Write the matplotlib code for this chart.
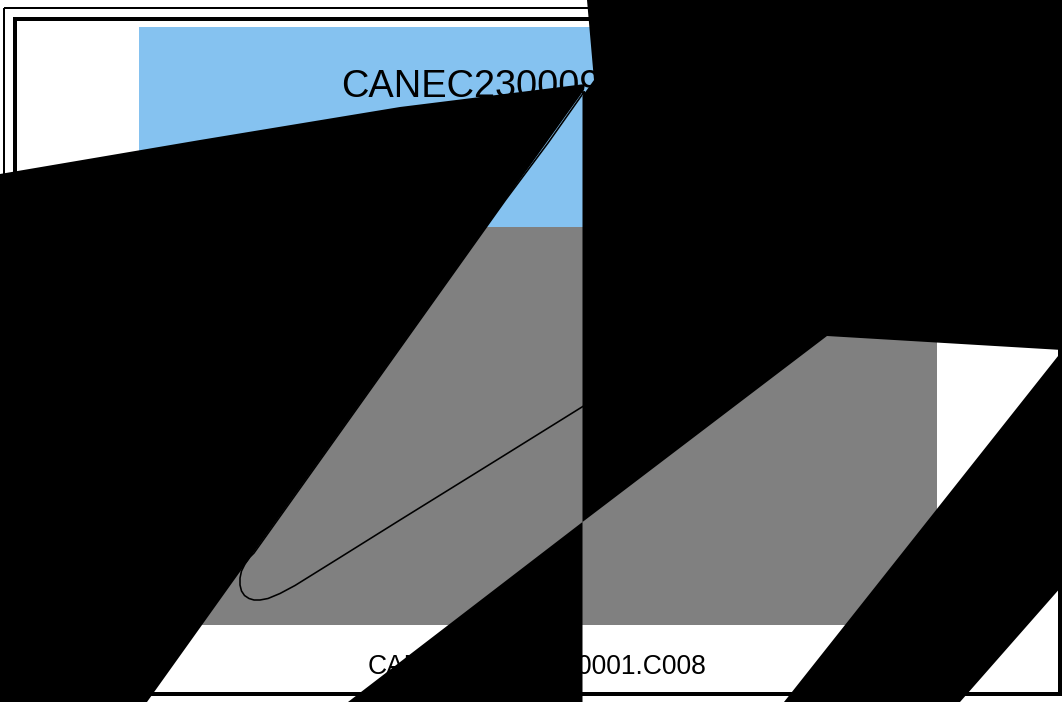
import matplotlib
matplotlib.use("Agg")
import matplotlib.pyplot as plt
from matplotlib.patches import Polygon, Rectangle

# ---- texts ----
title_text = "CANEC230009000001"
caption_text = "CANEC230009000001.C008"

# ---- black shapes, vertices (pixel space) ----
shape_a_x = [0, 200, 400, 585, 584, 147, 0]
shape_a_y = [174, 140, 107, 84, 90, 702, 702]
shape_b_x = [587, 1062, 1062, 827, 582.5, 582.5, 594]
shape_b_y = [0, 0, 350, 336, 522, 96, 80]
shape_c_x = [582.5, 348, 582.5]
shape_c_y = [522, 702, 702]
shape_d_x = [1062, 1062, 960, 784]
shape_d_y = [351, 586, 702, 702]

# ---- the thin curve ----
curve_x = [584, 548, 505.5, 254, 250, 245, 241.5, 240, 240, 241.5, 244.5, 249, 254, 260,
           268, 280, 295, 340, 400, 500, 590]
curve_y = [92, 143, 200, 553, 557, 564, 571, 578, 585, 591, 595.5, 598.5, 600, 600,
           598.5, 593.5, 585.5, 557.5, 520, 458, 402]

W, H = 1062, 702
BLUE = "#85C2F0"
GRAY = "#808080"
PX = 72 / 100  # points per pixel at dpi 100

fig = plt.figure(figsize=(W / 100, H / 100), dpi=100)
ax = fig.add_axes([0, 0, 1, 1])
ax.set_xlim(0, W)
ax.set_ylim(H, 0)
ax.axis("off")

# frames
ax.add_patch(Rectangle((3.7, 8), 1200, 1200, fill=False, ec="black", lw=2 * PX, zorder=1))
ax.add_patch(Rectangle((14.7, 18.5), 1060 - 14.7, 694 - 18.5, fill=False, ec="black",
                       lw=4 * PX, zorder=1))

# panels
ax.add_patch(Rectangle((139, 27), 937 - 139, 227 - 27, fc=BLUE, ec="none", zorder=2))
ax.add_patch(Rectangle((139, 227), 937 - 139, 625 - 227, fc=GRAY, ec="none", zorder=2))

ax.text(534, 97, title_text, ha="center", va="baseline", fontsize=38 * PX,
        family="Liberation Sans", color="black", zorder=3)
ax.text(537, 673.5, caption_text, ha="center", va="baseline", fontsize=26.5 * PX,
        family="Liberation Sans", color="black", zorder=3)

ax.plot(curve_x, curve_y, color="black", lw=1.6 * PX, zorder=4,
        solid_joinstyle="round", solid_capstyle="round")

for xs, ys in [(shape_a_x, shape_a_y), (shape_b_x, shape_b_y),
               (shape_c_x, shape_c_y), (shape_d_x, shape_d_y)]:
    ax.add_patch(Polygon(list(zip(xs, ys)), closed=True, fc="black", ec="none", zorder=5))

fig.savefig("out.png", dpi=100)
